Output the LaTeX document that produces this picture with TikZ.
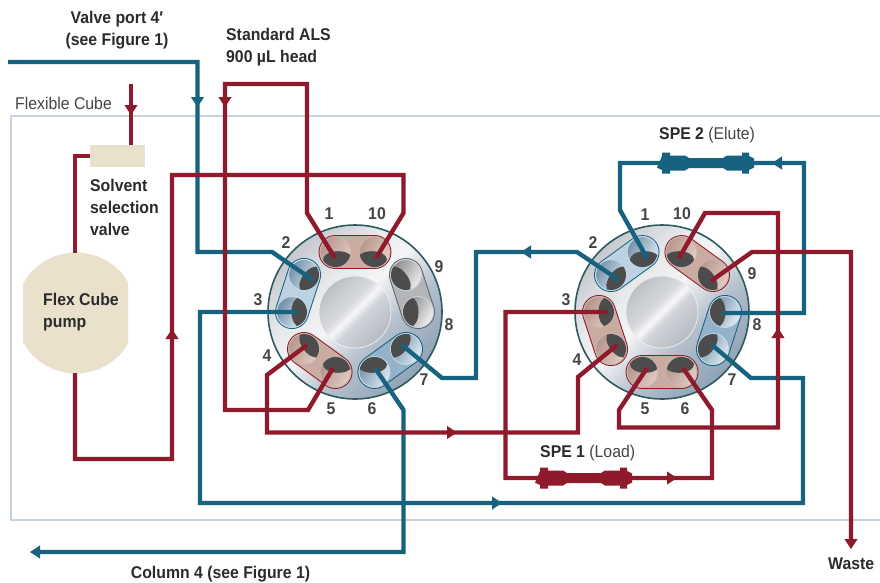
\documentclass[tikz,border=0pt]{standalone}
\usepackage{fontspec}
\setmainfont[FakeStretch=0.93]{Liberation Sans}
\definecolor{fr}{HTML}{8E1A2B}
\definecolor{fb}{HTML}{17627F}
\definecolor{tan}{HTML}{E9E1CC}
\definecolor{frm}{HTML}{C6D3DF}
\definecolor{txt}{HTML}{2B2B2D}
\definecolor{num}{HTML}{454547}
\definecolor{rim}{HTML}{2E5A60}
\definecolor{pinkcap}{HTML}{C9ABA2}
\definecolor{bluecap}{HTML}{BCD2E3}
\definecolor{bluecapd}{HTML}{94B3CA}
\definecolor{graycap}{HTML}{B4B5B9}
\definecolor{pinkedge}{HTML}{C9B6B0}
\definecolor{pinka}{HTML}{B39389}
\definecolor{pinkb}{HTML}{E4CFC6}
\definecolor{blueedge}{HTML}{C5DAE8}
\definecolor{bluea}{HTML}{6F8DA5}
\definecolor{blueb}{HTML}{E2EDF5}
\definecolor{grayedge}{HTML}{CBD5DB}
\definecolor{graya}{HTML}{858587}
\definecolor{grayb}{HTML}{F2F2F2}
\definecolor{c1}{HTML}{8FA3B5}\definecolor{c2}{HTML}{B5C0CC}\definecolor{c3}{HTML}{F4F5F6}\definecolor{c4}{HTML}{E6E8EA}\definecolor{c5}{HTML}{C5C9CF}
\definecolor{h1}{HTML}{B6BBC3}\definecolor{h2}{HTML}{D0D3D8}\definecolor{h3}{HTML}{F7F7F8}\definecolor{h4}{HTML}{D8DADD}\definecolor{h5}{HTML}{BDC0C5}
\pgfdeclareverticalshading{bodyshade}{100bp}{color(0bp)=(c1); color(25bp)=(c1); color(40bp)=(c2); color(52bp)=(c3); color(62bp)=(c4); color(75bp)=(c5); color(100bp)=(c5)}
\pgfdeclareverticalshading{hubshade}{100bp}{color(0bp)=(h1); color(25bp)=(h1); color(44bp)=(h2); color(50bp)=(h3); color(56bp)=(h4); color(75bp)=(h5); color(100bp)=(h5)}
\usetikzlibrary{calc}
\tikzset{
  x=1pt,y=-1pt,
  red line/.style={draw=fr,line width=4.4pt,miter limit=10},
  blue line/.style={draw=fb,line width=4.4pt,miter limit=10},
  lbl/.style={font=\fontsize{17}{22}\selectfont\bfseries,text=txt,inner sep=0pt,align=left},
  thin lbl/.style={font=\fontsize{17}{22}\selectfont,text=num,inner sep=0pt},
  nm/.style={font=\fontsize{17}{18}\selectfont\bfseries,text=num,inner sep=0pt},
  tanbox/.style={fill=tan,draw=none,inner sep=0pt},
}
% capsule joining two wells: centre, angle 1, angle 2, border, tint
\newcommand{\capsule}[5]{%
  \begin{scope}[shift={#1}]
    \draw[line cap=round,draw=#4,line width=34pt] (#2:63pt) -- (#3:63pt);
    \draw[line cap=round,draw=#5,line width=32pt] (#2:63pt) -- (#3:63pt);
  \end{scope}}
% well: centre, angle, edge colour, dark colour, light colour, tilt of the dark ellipse
\newcommand{\well}[6]{%
  \begin{scope}[shift={#1},rotate=#2]
    \draw[draw=#3,line width=0.9pt,top color=#4,bottom color=#5,shading angle=60] (63pt,0pt) circle[radius=15.4pt];
    \begin{scope}
      \clip (63pt,0pt) circle[radius=15pt];
      \fill[black!70,rotate around={#6:(55pt,0pt)}] (55pt,0pt) ellipse[x radius=8.5pt,y radius=15pt];
    \end{scope}
  \end{scope}}
\newcommand{\valvebody}[1]{%
  \shade[shading=bodyshade,shading angle=45] #1 circle[radius=87pt];
  \draw[draw=rim,line width=1.6pt] #1 circle[radius=87pt];
}
\newcommand{\hub}[1]{%
  \shade[shading=hubshade,shading angle=45] #1 circle[radius=36pt];
  \draw[black!6,line width=0.7pt] #1 circle[radius=36pt];
}
% arrowhead: tip position, direction
\newcommand{\arrowmark}[3]{%
  \fill[#3,shift={#1},rotate=#2] (0pt,0pt) -- (-10pt,6.6pt) -- (-10pt,-6.6pt) -- cycle;}
% fitting: left end, y, colour
\newcommand{\fitting}[3]{%
  \begin{scope}[shift={(#1,#2)}]
    \fill[#3] (0pt,-4.6pt) -- (5pt,-7pt) -- (5pt,-10.5pt) -- (13pt,-10.5pt) -- (13pt,-7.5pt) -- (28pt,-7.5pt) -- (32pt,-5pt) -- (66pt,-5pt) -- (70pt,-7.5pt) -- (85pt,-7.5pt) -- (85pt,-10.5pt) -- (92pt,-10.5pt) -- (92pt,-7pt) -- (97pt,-4.6pt) --
      (97pt,4.6pt) -- (92pt,7pt) -- (92pt,10.5pt) -- (85pt,10.5pt) -- (85pt,7.5pt) -- (70pt,7.5pt) -- (66pt,5pt) -- (32pt,5pt) -- (28pt,7.5pt) -- (13pt,7.5pt) -- (13pt,10.5pt) -- (5pt,10.5pt) -- (5pt,7pt) -- cycle;
  \end{scope}}
\begin{document}
\begin{tikzpicture}
\useasboundingbox (0,0) rectangle (880,582);
\fill[white] (0,0) rectangle (880,582);
% cube frame
\draw[frm,line width=1.3pt] (880,116) -- (11,116) -- (11,520) -- (880,520);
% pump and valve
\begin{scope}
  \clip (23,240) rectangle (128,385);
  \fill[tan] (76,313) circle[radius=60.5];
\end{scope}
\node[minimum width=105pt,minimum height=120pt,inner sep=0pt] (pump) at (75.5,313) {};
\node[tanbox,minimum width=55pt,minimum height=22pt] (ssv) at (117.5,156) {};
% valves
\coordinate (A) at (355,312);
\coordinate (B) at (662,312);
\valvebody{(A)}
\valvebody{(B)}
\hub{(A)}
\hub{(B)}
\capsule{(A)}{108}{72}{fr}{pinkcap}
\capsule{(A)}{36}{0}{black!60}{graycap}
\capsule{(A)}{-36}{-72}{fb}{bluecapd}
\capsule{(A)}{-108}{-144}{fr}{pinkcap}
\capsule{(A)}{180}{144}{fb}{bluecap}
\capsule{(B)}{108}{144}{fb}{bluecap}
\capsule{(B)}{72}{36}{fr}{pinkcap}
\capsule{(B)}{0}{-36}{fb}{bluecapd}
\capsule{(B)}{-72}{-108}{fr}{pinkcap}
\capsule{(B)}{-144}{180}{fr}{pinkcap}
\foreach \a/\t in {108/-18,72/18,-108/18,-144/0}{\well{(A)}{\a}{pinkedge}{pinka}{pinkb}{\t}}
\foreach \a/\t in {36/0,0/0}{\well{(A)}{\a}{grayedge}{graya}{grayb}{\t}}
\foreach \a/\t in {-36/0,-72/-18,180/0,144/0}{\well{(A)}{\a}{blueedge}{bluea}{blueb}{\t}}
\foreach \a/\t in {72/18,36/0,-72/-18,-108/18,-144/0,180/0}{\well{(B)}{\a}{pinkedge}{pinka}{pinkb}{\t}}
\foreach \a/\t in {108/-18,144/0,0/0,-36/0}{\well{(B)}{\a}{blueedge}{bluea}{blueb}{\t}}
% ports
\coordinate (a1) at (335,258);\coordinate (a10) at (376,258);\coordinate (a2) at (313,280);
\coordinate (a3) at (297,312);\coordinate (a4) at (307,345);\coordinate (a5) at (333,368);
\coordinate (a6) at (375,368);\coordinate (a7) at (402,345);
\coordinate (b1) at (647,258);\coordinate (b2) at (619,280);\coordinate (b3) at (607,312);
\coordinate (b4) at (617,345);\coordinate (b5) at (647,368);\coordinate (b6) at (683,368);
\coordinate (b7) at (712,345);\coordinate (b8) at (722,313);\coordinate (b9) at (711,281);
\coordinate (b10) at (679,258);
\coordinate (vp) at (8,62);\coordinate (col) at (36,552);\coordinate (waste) at (851,540);
\coordinate (als) at (131,84);
% blue connectors
\draw[blue line] (vp) -- (197.5,62) -- (197.5,252) -- (272,252) -- (a2);
\draw[blue line] (a3) -- (200,312) -- (200,503) -- (803,503) -- (803,378) -- (751,378) -- (b7);
\draw[blue line] (a6) -- (403.5,410) -- (403.5,552) -- (col);
\draw[blue line] (a7) -- (442,378) -- (476,378) -- (476,252) -- (577,252) -- (b2);
\draw[blue line] (b1) -- (620,210) -- (620,163) -- (804,163) -- (804,313) -- (b8);
% red connectors
\draw[red line] (als) -- (als |- ssv.north);
\draw[red line] (ssv.west) -- (75,156) -- (75,253);
\draw[red line] (75,373) -- (75,459) -- (172,459) -- (172,175) -- (403.5,175) -- (403.5,213) -- (a10);
\draw[red line] (a1) -- (307,213) -- (307,84) -- (225,84) -- (225,410) -- (308,410) -- (a5);
\draw[red line] (a4) -- (267,375) -- (267,432.5) -- (578,432.5) -- (578,377) -- (b4);
\draw[red line] (b3) -- (505.5,312) -- (505.5,478) -- (712,478) -- (712,410) -- (b6);
\draw[red line] (b5) -- (619,410) -- (619,427.5) -- (778,427.5) -- (778,213) -- (705,213) -- (b10);
\draw[red line] (b9) -- (752,252) -- (851,252) -- (waste);
% fittings
\fitting{657}{163}{fb}
\fitting{535}{478}{fr}
% arrowheads
\arrowmark{(131,115)}{-90}{fr}
\arrowmark{(197.5,107)}{-90}{fb}
\arrowmark{(225,107)}{-90}{fr}
\arrowmark{(172,329)}{90}{fr}
\arrowmark{(457,432.5)}{0}{fr}
\arrowmark{(502,503)}{0}{fb}
\arrowmark{(521,252)}{180}{fb}
\arrowmark{(778,328)}{90}{fr}
\arrowmark{(677,478)}{0}{fr}
\arrowmark{(772,163)}{180}{fb}
\arrowmark{(851,549)}{-90}{fr}
\arrowmark{(30,552)}{180}{fb}
% labels
\node[lbl,align=center] (t1) at (117,30) {Valve port 4′\\(see Figure 1)};
\node[lbl,anchor=west] (t2) at (226,47) {Standard ALS\\900 µL head};
\node[thin lbl,anchor=west] (t3) at (15,103) {Flexible Cube};
\node[lbl,anchor=west] (t4) at (90,207) {Solvent\\selection\\valve};
\node[lbl,anchor=west] (t5) at (43,312) {Flex Cube\\pump};
\node[lbl,anchor=west] (t6) at (659,135) {SPE 2 \mdseries\color{num}(Elute)};
\node[lbl,anchor=west] (t7) at (540,453) {SPE 1 \mdseries\color{num}(Load)};
\node[lbl,anchor=west] (t8) at (828,564) {Waste};
\node[lbl] (t9) at (220.5,574) {Column 4 (see Figure 1)};
\foreach \n/\x/\y/\t in {a/329/214/1,b/377/214/10,c/439/267/9,d/449/325/8,e/424/380/7,f/372/409/6,g/331/409/5,h/267/356/4,i/258/300/3,j/286/243/2,
  k/645/215/1,l/682/214/10,m/752/274/9,n/757/325/8,o/732/380/7,p/685/409/6,q/645/409/5,r/577/360/4,s/566/300/3,u/593/243/2}{
  \node[nm] (n\n) at (\x,\y) {\t};
}
\end{tikzpicture}
\end{document}
